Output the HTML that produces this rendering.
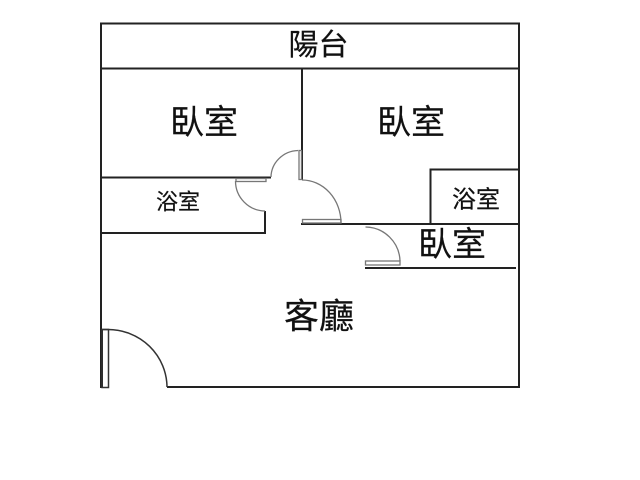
<!DOCTYPE html>
<html lang="zh-Hant">
<head>
<meta charset="utf-8">
<title>Floor plan</title>
<style>
html,body{margin:0;padding:0;background:#fff;width:640px;height:480px;overflow:hidden}
svg{display:block}
text{font-family:"Liberation Sans","Noto Sans CJK TC",sans-serif;fill:#111;stroke:#111;stroke-width:.2;font-weight:400}
</style>
</head>
<body>
<svg width="640" height="480" viewBox="0 0 640 480" xmlns="http://www.w3.org/2000/svg">
<rect width="640" height="480" fill="#fff"/>
<g fill="none" stroke="#222" stroke-width="2">
  <path d="M101 388V23.500H519V388"/>
  <path d="M101 68.500H519"/>
  <path d="M302 68V180"/>
  <path d="M101 177.500H271"/>
  <path d="M265 211V233H101"/>
  <path d="M301 224H519"/>
  <path d="M430.500 224V169.500H519"/>
  <path d="M365 268H516"/>
  <path d="M167 387H520"/>
  <path d="M101.500 329V388" stroke-width="3"/>
</g>
<g fill="none" stroke="#777" stroke-width="1.300">
  <path d="M298 150.500A28 27 0 0 0 271 177"/>
  <rect x="299" y="150.500" width="2.500" height="29"/>
  <path d="M235.500 181A30 30 0 0 0 265 211"/>
  <rect x="236" y="178.500" width="30" height="3"/>
  <path d="M302 180A39 43 0 0 1 341 223"/>
  <rect x="302.500" y="219.500" width="38.500" height="3.500"/>
  <path d="M365.500 227A35 35 0 0 1 400 261"/>
  <rect x="365.500" y="261" width="34.500" height="4"/>
</g>
<g fill="none" stroke="#333" stroke-width="1.500">
  <path d="M102 329.500H108A59 58 0 0 1 167 387"/>
  <rect x="102" y="329.500" width="6.500" height="58"/>
</g>
<text x="288.500" y="55" font-size="30" textLength="60" lengthAdjust="spacingAndGlyphs">陽台</text>
<text x="170" y="134" font-size="34" textLength="68" lengthAdjust="spacingAndGlyphs">臥室</text>
<text x="377" y="134" font-size="34" textLength="68" lengthAdjust="spacingAndGlyphs">臥室</text>
<text x="156" y="209.500" font-size="22" textLength="44" lengthAdjust="spacingAndGlyphs">浴室</text>
<text x="452" y="207.500" font-size="24" textLength="48" lengthAdjust="spacingAndGlyphs">浴室</text>
<text x="418" y="256" font-size="34" textLength="68" lengthAdjust="spacingAndGlyphs">臥室</text>
<text x="284" y="328.500" font-size="35" textLength="70" lengthAdjust="spacingAndGlyphs">客廳</text>
</svg>
</body>
</html>
